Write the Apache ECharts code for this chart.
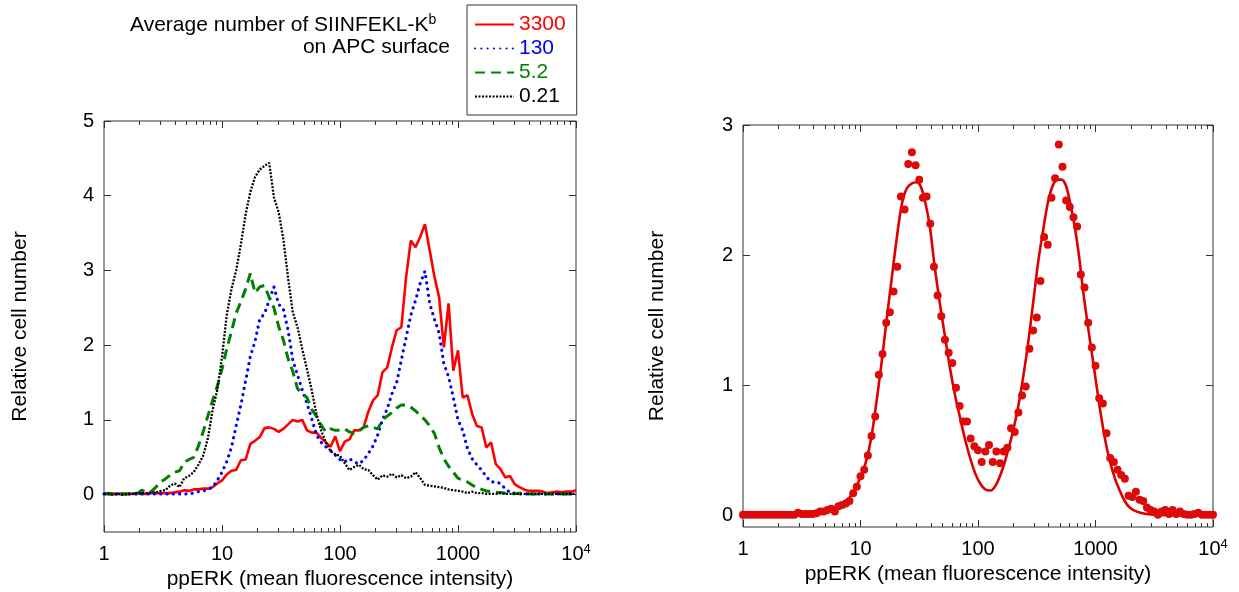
<!DOCTYPE html>
<html><head><meta charset="utf-8">
<script src="https://cdn.jsdelivr.net/npm/echarts@6.0.0/dist/echarts.min.js"></script>
<style>html,body{margin:0;padding:0;background:#fff}#c{width:1239px;height:592px}</style>
</head><body><div id="c"></div>
<script>
// ---------- data ----------
const legendNames = ['3300', '130', '5.2', '0.21'];
const xTickValues = [1, 10, 100, 1000, 10000];
const xMinorTickValues = [2,3,4,5,6,7,8,9,20,30,40,50,60,70,80,90,200,300,400,500,600,700,800,900,2000,3000,4000,5000,6000,7000,8000,9000];
const leftYTicks = [0, 1, 2, 3, 4, 5];
const rightYTicks = [0, 1, 2, 3];

const leftBins = [
  1, 1.096, 1.202, 1.318, 1.445, 1.585, 1.738, 1.905, 2.089, 2.291, 2.512, 2.754, 3.020, 3.311, 3.631, 3.981, 4.365, 4.786, 5.248, 5.754, 6.310, 6.918, 7.586, 8.318, 9.120,
  10, 10.96, 12.02, 13.18, 14.45, 15.85, 17.38, 19.05, 20.89, 22.91, 25.12, 27.54, 30.20, 33.11, 36.31, 39.81, 43.65, 47.86, 52.48, 57.54, 63.10, 69.18, 75.86, 83.18, 91.20,
  100, 109.6, 120.2, 131.8, 144.5, 158.5, 173.8, 190.5, 208.9, 229.1, 251.2, 275.4, 302.0, 331.1, 363.1, 398.1, 436.5, 478.6, 524.8, 575.4, 631.0, 691.8, 758.6, 831.8, 912.0,
  1000, 1096, 1202, 1318, 1445, 1585, 1738, 1905, 2089, 2291, 2512, 2754, 3020, 3311, 3631, 3981, 4365, 4786, 5248, 5754, 6310, 6918, 7586, 8318, 9120,
  10000
];
const s3300 = [
  0.01,0.02,0.01,0.01,0.01,0.01,0.01,0.02,0.01,0.01,0.02,0.02,0.02,0.02,0.02,0.03,0.04,0.06,0.05,0.07,0.07,0.08,0.08,0.10,0.15,
  0.19,0.27,0.32,0.33,0.46,0.47,0.68,0.72,0.77,0.89,0.90,0.88,0.84,0.88,0.94,1.00,0.98,1.00,0.86,0.83,0.83,0.76,0.70,0.64,0.78,
  0.58,0.71,0.74,0.86,0.86,0.90,1.11,1.26,1.33,1.64,1.70,1.97,2.20,2.24,2.91,3.40,3.31,3.45,3.62,3.27,2.92,2.64,1.97,2.56,1.66,
  1.93,1.30,1.33,1.08,0.92,0.90,0.63,0.70,0.41,0.34,0.23,0.25,0.14,0.10,0.07,0.05,0.05,0.05,0.04,0.02,0.03,0.04,0.03,0.04,0.04,
  0.06
];
const s130 = [
  0.01,0.01,0.01,0.01,0.01,0.01,0.01,0.01,0.01,0.01,0.01,0.01,0.01,0.01,0.01,0.01,0.01,0.01,0.01,0.02,0.04,0.05,0.07,0.10,0.19,
  0.30,0.44,0.63,0.92,1.20,1.52,1.85,2.05,2.35,2.42,2.60,2.78,2.55,2.48,2.20,1.80,1.60,1.40,1.22,1.02,0.80,0.70,0.64,0.59,0.53,
  0.47,0.44,0.48,0.44,0.41,0.46,0.55,0.65,0.80,1.00,1.15,1.35,1.50,1.80,2.10,2.40,2.60,2.83,2.99,2.56,2.35,2.16,1.75,1.58,1.30,
  1.00,0.86,0.62,0.48,0.40,0.33,0.24,0.17,0.17,0.15,0.08,0.03,0.02,0.01,0.01,0.01,0.01,0.01,0.01,0.01,0.01,0.01,0.01,0.01,0.01,
  0.01
];
const s52 = [
  0.01,0.01,0.01,0.01,0.01,0.01,0.01,0.01,0.06,0.03,0.04,0.10,0.17,0.21,0.26,0.30,0.32,0.43,0.47,0.50,0.65,0.84,1.05,1.26,1.45,
  1.68,1.95,2.18,2.43,2.58,2.75,2.96,2.70,2.78,2.80,2.64,2.50,2.25,2.07,1.82,1.65,1.42,1.35,1.30,1.14,1.05,0.93,0.84,0.88,0.86,
  0.86,0.88,0.84,0.82,0.85,0.90,0.92,0.90,0.88,1.00,1.05,1.10,1.16,1.20,1.20,1.17,1.12,1.06,1.00,0.92,0.82,0.63,0.48,0.38,0.30,
  0.22,0.19,0.17,0.13,0.09,0.07,0.05,0.04,0.03,0.03,0.02,0.02,0.01,0.02,0.01,0.01,0.01,0.01,0.01,0.01,0.01,0.01,0.01,0.01,0.01,
  0.01
];
const s021 = [
  0.01,0.01,0.00,0.01,0.00,0.01,0.01,0.02,0.02,0.02,0.03,0.03,0.05,0.06,0.12,0.15,0.10,0.22,0.25,0.30,0.40,0.52,0.75,1.13,1.40,
  1.84,2.40,2.75,3.00,3.35,3.75,4.05,4.25,4.35,4.40,4.44,3.98,3.78,3.42,2.90,2.44,2.24,1.95,1.68,1.40,1.08,0.86,0.70,0.58,0.54,
  0.52,0.42,0.33,0.37,0.40,0.34,0.33,0.26,0.20,0.26,0.24,0.28,0.23,0.26,0.22,0.24,0.30,0.22,0.13,0.12,0.11,0.10,0.09,0.07,0.06,
  0.05,0.04,0.02,0.04,0.02,0.02,0.01,0.01,0.01,0.02,0.01,0.01,0.01,0.01,0.01,0.01,0.01,0.01,0.01,0.01,0.01,0.01,0.01,0.01,0.01,
  0.01
];

const rightBins = [
  1, 1.075, 1.155, 1.241, 1.334, 1.433, 1.540, 1.655, 1.778, 1.911, 2.054, 2.207, 2.371, 2.548, 2.738, 2.943,
  3.162, 3.398, 3.652, 3.924, 4.217, 4.532, 4.870, 5.233, 5.623, 6.043, 6.494, 6.978, 7.499, 8.058, 8.660, 9.306,
  10, 10.75, 11.55, 12.41, 13.34, 14.33, 15.40, 16.55, 17.78, 19.11, 20.54, 22.07, 23.71, 25.48, 27.38, 29.43,
  31.62, 33.98, 36.52, 39.24, 42.17, 45.32, 48.70, 52.33, 56.23, 60.43, 64.94, 69.78, 74.99, 80.58, 86.60, 93.06,
  100, 107.5, 115.5, 124.1, 133.4, 143.3, 154.0, 165.5, 177.8, 191.1, 205.4, 220.7, 237.1, 254.8, 273.8, 294.3,
  316.2, 339.8, 365.2, 392.4, 421.7, 453.2, 487.0, 523.3, 562.3, 604.3, 649.4, 697.8, 749.9, 805.8, 866.0, 930.6,
  1000, 1075, 1155, 1241, 1334, 1433, 1540, 1655, 1778, 1911, 2054, 2207, 2371, 2548, 2738, 2943,
  3162, 3398, 3652, 3924, 4217, 4532, 4870, 5233, 5623, 6043, 6494, 6978, 7499, 8058, 8660, 9306,
  10000
];
const rightCounts = [
  0.005,0.005,0.005,0.005,0.005,0.005,0.005,0.005,0.005,0.005,0.005,0.005,0.005,0.005,0.005,0.02,
  0.01,0.01,0.01,0.01,0.015,0.03,0.03,0.04,0.05,0.03,0.07,0.08,0.09,0.11,0.17,0.22,
  0.30,0.35,0.46,0.61,0.76,1.08,1.24,1.48,1.56,1.72,1.91,2.45,2.35,2.70,2.79,2.69,
  2.58,2.44,2.45,2.24,1.91,1.69,1.53,1.35,1.25,1.17,0.98,0.84,0.72,0.72,0.59,0.53,
  0.50,0.41,0.49,0.54,0.41,0.49,0.40,0.49,0.52,0.67,0.64,0.79,0.92,0.99,1.28,1.42,
  1.52,1.80,2.14,2.08,2.44,2.59,2.85,2.68,2.42,2.37,2.29,2.22,1.85,1.75,1.48,1.29,
  1.15,0.90,0.86,0.63,0.44,0.41,0.35,0.31,0.28,0.15,0.14,0.18,0.12,0.11,0.06,0.04,
  0.03,0.005,0.03,0.04,0.01,0.04,0.01,0.03,0.01,0.005,0.005,0.01,0.02,0.005,0.005,0.005,
  0.005
];
const fitX = [1, 2, 3.05, 3.98, 5.01, 6.31, 8.13, 10, 11.27, 12.42, 13.71, 15.1, 16.67, 18.37, 20.28, 22.34, 24.66,
  27.16, 29.99, 32.43, 35.32, 38.9, 42.95, 47.32, 52.24, 57.54, 63.53, 69.98, 77.27, 85.11, 93.97, 103.5, 114.8, 127.4,
  143.5, 163.7, 180.3, 199.1, 219.3, 242.1, 266.7, 294.4, 324.3, 358.1, 394.5, 435.5, 479.7, 512.9, 557.2, 602.6, 665.3,
  724.4, 783.4, 847.2, 922.6, 1005, 1086, 1197, 1321, 1456, 1607, 1770, 1954, 2223, 2704, 3981, 10000];
const fitY = [0, 0, 0.01, 0.02, 0.04, 0.07, 0.14, 0.29, 0.43, 0.61, 0.88, 1.17, 1.50, 1.81, 2.12, 2.38, 2.51,
  2.55, 2.56, 2.53, 2.42, 2.22, 1.90, 1.63, 1.38, 1.14, 0.93, 0.76, 0.59, 0.45, 0.33, 0.25, 0.20, 0.19,
  0.24, 0.37, 0.50, 0.65, 0.83, 1.06, 1.32, 1.63, 1.94, 2.19, 2.41, 2.54, 2.58, 2.58, 2.54, 2.42, 2.22,
  1.99, 1.73, 1.50, 1.27, 1.04, 0.83, 0.60, 0.42, 0.29, 0.19, 0.11, 0.06, 0.03, 0.01, 0, 0];

// ---------- chart ----------
const FONT = '"Liberation Sans", Arial, Helvetica, sans-serif';
const AXIS_COLOR = '#333';
const pairs = (xs, ys) => xs.map((x, i) => [x, ys[i]]);

function xLabelFmt(v) {
  const r = Math.round(v);
  return r >= 10000 ? '{a|10}{s|4}' : '{a|' + r + '}';
}
const xLabelRich = {
  a: { fontSize: 20, fontFamily: FONT, color: '#000', lineHeight: 22 },
  s: { fontSize: 13, fontFamily: FONT, color: '#000', verticalAlign: 'top', lineHeight: 12 }
};
const noLine = { show: false, onZero: false };

function makeXAxes(gridIndex) {
  const base = { type: 'log', logBase: 10, gridIndex, min: 1, max: 10000,
    axisLine: noLine, splitLine: { show: false }, minorTick: { show: false }, minorSplitLine: { show: false } };
  return [
    Object.assign({}, base, { position: 'bottom',
      axisTick: { show: true, inside: true, length: 7, customValues: xTickValues, lineStyle: { color: AXIS_COLOR, width: 1 } },
      axisLabel: { show: true, margin: 11, customValues: xTickValues, formatter: xLabelFmt, rich: xLabelRich, showMinLabel: true, showMaxLabel: true },
      name: 'ppERK (mean fluorescence intensity)', nameLocation: 'middle', nameGap: 34,
      nameTextStyle: { fontSize: 21, fontFamily: FONT, color: '#000' } }),
    Object.assign({}, base, { position: 'bottom', axisLabel: { show: false },
      axisTick: { show: true, inside: true, length: 4, customValues: xMinorTickValues, lineStyle: { color: AXIS_COLOR, width: 1 } } }),
    Object.assign({}, base, { position: 'top', axisLabel: { show: false },
      axisTick: { show: true, inside: true, length: 7, customValues: xTickValues, lineStyle: { color: AXIS_COLOR, width: 1 } } }),
    Object.assign({}, base, { position: 'top', axisLabel: { show: false },
      axisTick: { show: true, inside: true, length: 4, customValues: xMinorTickValues, lineStyle: { color: AXIS_COLOR, width: 1 } } })
  ];
}
function makeYAxes(gridIndex, min, max, ticks, nameGap) {
  const base = { type: 'value', gridIndex, min, max, axisLine: noLine, splitLine: { show: false } };
  return [
    Object.assign({}, base, { position: 'left',
      axisTick: { show: true, inside: true, length: 7, customValues: ticks, lineStyle: { color: AXIS_COLOR, width: 1 } },
      axisLabel: { show: true, margin: 10, customValues: ticks, fontSize: 20, fontFamily: FONT, color: '#000' },
      name: 'Relative cell number', nameLocation: 'middle', nameGap: nameGap,
      nameTextStyle: { fontSize: 21, fontFamily: FONT, color: '#000' } }),
    Object.assign({}, base, { position: 'right', axisLabel: { show: false },
      axisTick: { show: true, inside: true, length: 7, customValues: ticks, lineStyle: { color: AXIS_COLOR, width: 1 } } })
  ];
}

const option = {
  animation: false,
  backgroundColor: '#fff',
  textStyle: { fontFamily: FONT },
  title: [
    { text: '{a|Average number of SIINFEKL-K}{s|b}', left: 130, top: 13, padding: 0,
      textStyle: { fontWeight: 'normal', color: '#000', fontSize: 21, fontFamily: FONT,
        rich: { a: { fontSize: 21, fontFamily: FONT, color: '#000', lineHeight: 24 },
                s: { fontSize: 14, fontFamily: FONT, color: '#000', verticalAlign: 'top', lineHeight: 14 } } } },
    { text: 'on APC surface', left: 450, textAlign: 'right', top: 35, padding: 0,
      textStyle: { fontWeight: 'normal', color: '#000', fontSize: 21, fontFamily: FONT, lineHeight: 24 } }
  ],
  legend: {
    orient: 'vertical', left: 467, top: 5, padding: [9, 11, 8, 7],
    itemWidth: 39, itemHeight: 14, itemGap: 3,
    borderColor: '#333', borderWidth: 1, selectedMode: false,
    itemStyle: { opacity: 0 },
    textStyle: { fontSize: 21, fontFamily: FONT, lineHeight: 20 },
    data: [
      { name: legendNames[0], textStyle: { color: '#ff0000' } },
      { name: legendNames[1], textStyle: { color: '#0000ff' } },
      { name: legendNames[2], textStyle: { color: '#008000' } },
      { name: legendNames[3], textStyle: { color: '#000000' } }
    ]
  },
  grid: [
    { left: 104, right: 1239 - 576, top: 121, bottom: 592 - 532, show: true, borderColor: AXIS_COLOR, borderWidth: 1, containLabel: false, outerBoundsMode: 'none' },
    { left: 743, right: 1239 - 1213, top: 125, bottom: 592 - 527, show: true, borderColor: AXIS_COLOR, borderWidth: 1, containLabel: false, outerBoundsMode: 'none' }
  ],
  xAxis: makeXAxes(0).concat(makeXAxes(1)),
  yAxis: makeYAxes(0, -0.5, 5, leftYTicks, 73).concat(makeYAxes(1, -0.09, 3, rightYTicks, 75)),
  series: [
    { name: legendNames[0], type: 'line', xAxisIndex: 0, yAxisIndex: 0, data: pairs(leftBins, s3300), symbol: 'none',
      itemStyle: { color: '#ff0000' }, lineStyle: { color: '#ff0000', width: 2.6 } },
    { name: legendNames[1], type: 'line', xAxisIndex: 0, yAxisIndex: 0, data: pairs(leftBins, s130), symbol: 'none',
      itemStyle: { color: '#0000ff' }, lineStyle: { color: '#0000ff', width: 3.2, type: [0.1, 6.2], cap: 'round' } },
    { name: legendNames[2], type: 'line', xAxisIndex: 0, yAxisIndex: 0, data: pairs(leftBins, s52), symbol: 'none',
      itemStyle: { color: '#008000' }, lineStyle: { color: '#008000', width: 3, type: [10, 6] } },
    { name: legendNames[3], type: 'line', xAxisIndex: 0, yAxisIndex: 0, data: pairs(leftBins, s021), symbol: 'none',
      itemStyle: { color: '#000000' }, lineStyle: { color: '#000000', width: 2.3, type: [2, 1.5] } },
    { name: 'fit', type: 'line', xAxisIndex: 4, yAxisIndex: 2, data: pairs(fitX, fitY), symbol: 'none', smooth: 0.3,
      itemStyle: { color: '#dd0000' }, lineStyle: { color: '#dd0000', width: 2.6 }, z: 2 },
    { name: 'data', type: 'scatter', xAxisIndex: 4, yAxisIndex: 2, data: pairs(rightBins, rightCounts),
      symbol: 'circle', symbolSize: 8, itemStyle: { color: '#dd0a0a', opacity: 1 }, z: 3 }
  ]
};

const chart = echarts.init(document.getElementById('c'), null, { renderer: 'canvas' });
chart.setOption(option);
</script>
</body></html>
